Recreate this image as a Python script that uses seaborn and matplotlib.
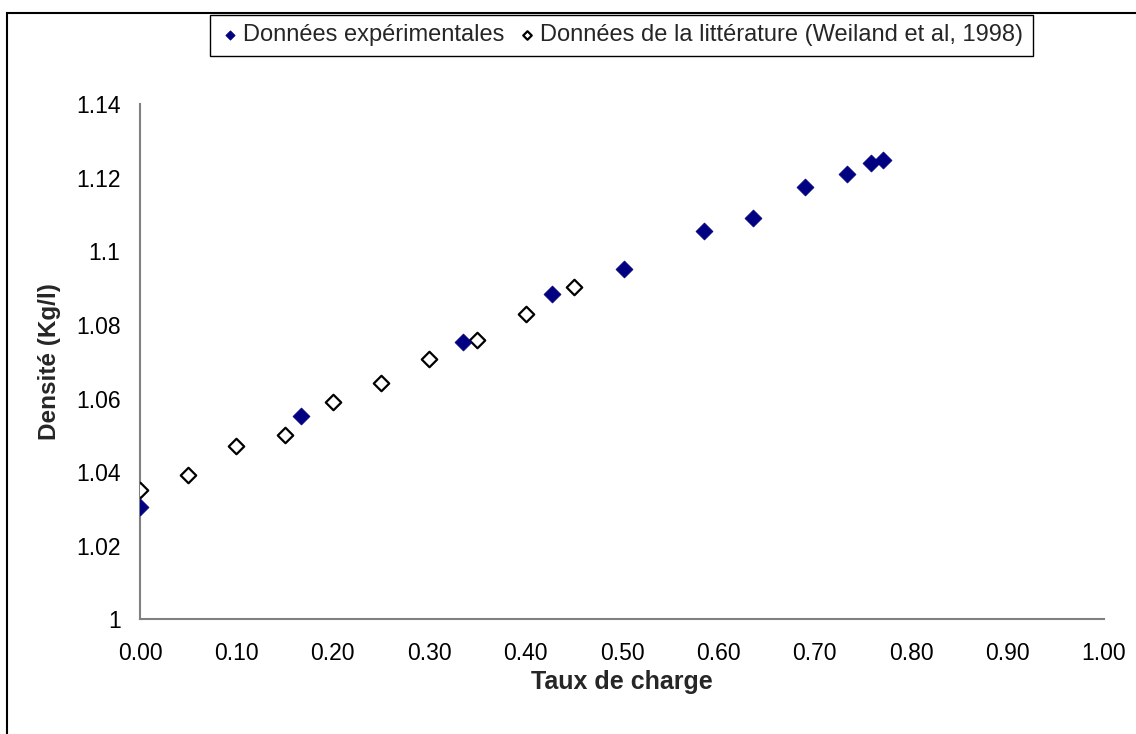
import numpy as np
import pandas as pd
import matplotlib
matplotlib.use('Agg')
import matplotlib.pyplot as plt
import seaborn as sns
from matplotlib.patches import Rectangle
from matplotlib.ticker import FuncFormatter

# experimental points (filled diamonds)
taux_exp = [0.00, 0.167, 0.335, 0.427, 0.502, 0.585, 0.636, 0.690, 0.733, 0.758, 0.771]
dens_exp = [1.0306, 1.0553, 1.0755, 1.0884, 1.0952, 1.1054, 1.1090, 1.1175, 1.1211, 1.1241, 1.1247]

# literature points (open diamonds)
taux_lit = [0.00, 0.05, 0.10, 0.15, 0.20, 0.25, 0.30, 0.35, 0.40, 0.45]
dens_lit = [1.0353, 1.0393, 1.0470, 1.0500, 1.0592, 1.0643, 1.0708, 1.0760, 1.0830, 1.0903]

label_exp = 'Données expérimentales'
label_lit = 'Données de la littérature (Weiland et al, 1998)'

df_exp = pd.DataFrame({'Taux de charge': taux_exp, 'Densité': dens_exp})
df_lit = pd.DataFrame({'Taux de charge': taux_lit, 'Densité': dens_lit})

sns.set_style('white')
plt.rcParams['font.family'] = ['Liberation Sans', 'DejaVu Sans']

fig = plt.figure(figsize=(11.36, 7.34), dpi=100)
ax = fig.add_axes([0.1232, 0.156, 0.9718 - 0.1232, 0.8583 - 0.156])

# outer chart border (Excel style)
fig.patches.append(Rectangle((7 / 1136, -0.05), 1.2, 1 - 13 / 734 + 0.05,
                             transform=fig.transFigure, fill=False,
                             edgecolor='black', linewidth=1.5, zorder=0))

sns.scatterplot(data=df_lit, x='Taux de charge', y='Densité', ax=ax, marker='D',
                s=62, facecolor='white', edgecolor='black', linewidth=1.6,
                label=label_lit, zorder=3)
sns.scatterplot(data=df_exp, x='Taux de charge', y='Densité', ax=ax, marker='D',
                s=75, color='#000080', edgecolor='#000080', linewidth=0.5,
                label=label_exp, zorder=4)

ax.set_xlim(0, 1.0)
ax.set_ylim(1.0, 1.14)
ax.set_xticks(np.arange(0, 1.01, 0.1))
ax.set_yticks(np.arange(1.0, 1.141, 0.02))
ax.xaxis.set_major_formatter(FuncFormatter(lambda v, p: f'{v:.2f}'))
ax.yaxis.set_major_formatter(FuncFormatter(lambda v, p: f'{round(v, 2):g}'))

for side in ['top', 'right']:
    ax.spines[side].set_visible(False)
for side in ['left', 'bottom']:
    ax.spines[side].set_color('#808080')
    ax.spines[side].set_linewidth(1.5)
ax.tick_params(axis='both', direction='out', length=5, width=1.2,
               color='#808080', labelsize=16.5, labelcolor='black')
ax.tick_params(axis='y', pad=9)
ax.tick_params(axis='x', pad=11)

ax.set_xlabel('Taux de charge', fontsize=18, fontweight='bold', labelpad=4)
ax.set_ylabel('Densité (Kg/l)', fontsize=17.5, fontweight='bold', labelpad=11)

handles, labels = ax.get_legend_handles_labels()
order = [labels.index(label_exp), labels.index(label_lit)]
leg = ax.legend([handles[i] for i in order], [labels[i] for i in order],
                loc='upper center', bbox_to_anchor=(0.547, 0.98),
                bbox_transform=fig.transFigure, ncol=2, fontsize=17,
                frameon=True, fancybox=False, framealpha=1, edgecolor='black',
                markerscale=0.55, handletextpad=0.1, columnspacing=0.5,
                handlelength=0.9, borderpad=0.4, borderaxespad=0)
leg.get_frame().set_linewidth(1.0)

fig.savefig('out.png', dpi=100)
